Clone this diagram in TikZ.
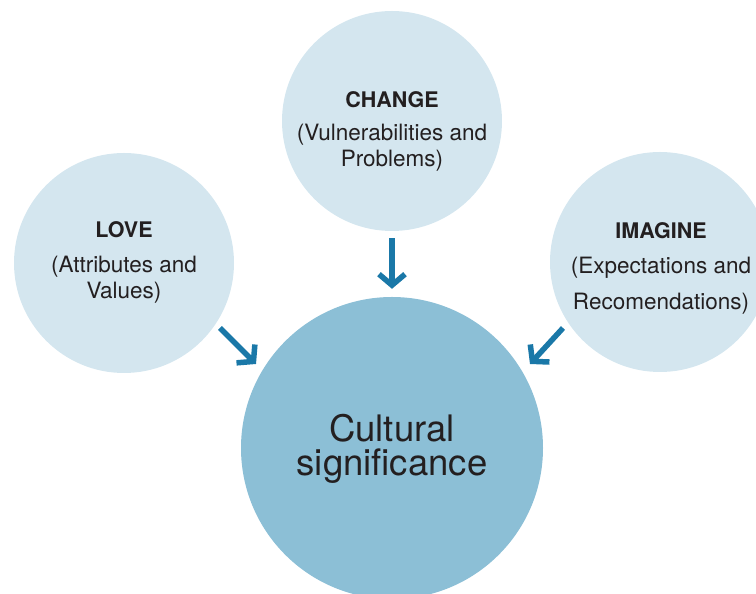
\documentclass[tikz,border=0pt]{standalone}
\usepackage{fontspec}
\setmainfont{TeX Gyre Heros}
\usetikzlibrary{arrows.meta}
\definecolor{ideafill}{HTML}{D4E6EF}
\definecolor{corefill}{HTML}{8CBFD6}
\definecolor{flowblue}{HTML}{1A78A8}
\definecolor{inkgray}{HTML}{231F20}
\newcommand{\headword}[1]{{\fontsize{21.5}{25}\selectfont\textbf{#1}}}
\begin{document}
\begin{tikzpicture}[x=1pt, y=1pt,
		idea/.style={circle, fill=ideafill, minimum size=220pt, inner sep=0pt},
		core/.style={circle, fill=corefill, minimum size=302pt, inner sep=0pt},
		note/.style={align=center, text=inkgray, font=\fontsize{22.5}{25.5}\selectfont},
		flow/.style={draw=flowblue, line width=5.5pt, -{Straight Barb[length=11pt, width=26pt]}}]
	\useasboundingbox (0,0) rectangle (756,594);
	\clip (0,0) rectangle (756,594);
	\node[idea] (change) at (392,473) {};
	\node[idea] (love) at (124,331) {};
	\node[idea] (imagine) at (660,332) {};
	\node[core] (core) at (392,146) {};
	\node[note] (changetxt) at (392,463) {\headword{CHANGE}\\[8pt](Vulnerabilities and\\Problems)};
	\node[note] (lovetxt) at (124,332) {\headword{LOVE}\\[10pt](Attributes and\\Values)};
	\node[note] (imaginetxt) at (661,326) {\headword{IMAGINE}\\[10pt](Expectations and\\[10pt]Recomendations)};
	\node[note, font=\fontsize{36.5}{34}\selectfont] (coretxt) at (392,145) {Cultural\\significance};
	\coordinate (lovetail) at (220,266);
	\coordinate (lovetip) at (256,230);
	\coordinate (imaginetail) at (563,266);
	\coordinate (imaginetip) at (530,230);
	\draw[flow, shorten <=7pt, shorten >=8pt] (change) -- (core);
	\draw[flow] (lovetail) -- (lovetip);
	\draw[flow] (imaginetail) -- (imaginetip);
\end{tikzpicture}
\end{document}
